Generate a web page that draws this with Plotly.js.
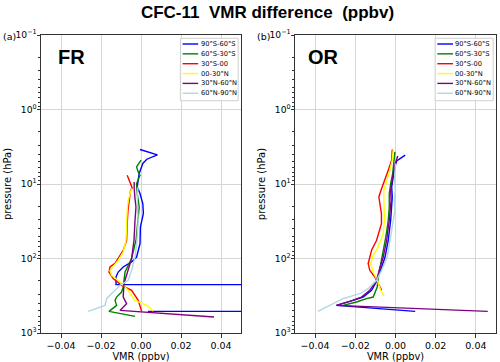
<!DOCTYPE html>
<html><head><meta charset="utf-8">
<script src="https://cdn.plot.ly/plotly-3.0.1.min.js"></script>
<style>html,body{margin:0;padding:0;background:#fff}#chart{width:500px;height:362px}</style>
</head><body><div id="chart"></div>
<script>
// ---------- series / labels ----------
const seriesNames  = ['90°S-60°S','60°S-30°S','30°S-00','00-30°N','30°N-60°N','60°N-90°N'];
const seriesColors = ['#0000ff','#008000','#ff0000','#ffff00','#800080','#add8e6'];
const panelNames   = ['FR','OR'];
const panelLetters = ['(a)','(b)'];
const xTickVals = [-0.04,-0.02,0,0.02,0.04];
const xTickText = ['−0.04','−0.02','0.00','0.02','0.04'];
const yTickVals = [0.1,1,10,100,1000];
const yTickText = ['10<sup>−1</sup>','10<sup>0</sup>','10<sup>1</sup>','10<sup>2</sup>','10<sup>3</sup>'];

// ---------- FR panel (pressure hPa, VMR difference ppbv) ----------
const fr_p_90S60S = [3.44,4.06,4.65,5.30,7.22,10.9,13.4,18.3,24.9,37.8,63.1,95.5,111,130,152,177,224,224,513,513];
const fr_v_90S60S = [-0.0005,0.0082,0.0029,0.0009,-0.0009,-0.0019,-0.0005,0.0009,0.0012,-0.0003,-0.0005,-0.0022,-0.0047,-0.0089,-0.0114,-0.0125,-0.0125,5,5,0.0035];
const fr_p_60S30S = [4.79,5.89,6.88,7.62,9.85,13.4,20.3,30.7,56.9,100,152,242,282,329,365,426,513,598];
const fr_v_60S30S = [0.0000,-0.0022,-0.0014,-0.0005,-0.0022,-0.0019,-0.0009,-0.0014,-0.0025,-0.0047,-0.0080,-0.0089,-0.0097,-0.0122,-0.0130,-0.0122,-0.0160,-0.0030];
const fr_p_30S00  = [7.62,11.3,12.1,16.5,22.5,34.0,56.9,77.6,116,130,152,186,229,267,365,508];
const fr_v_30S00  = [-0.0069,-0.0044,-0.0052,-0.0060,-0.0065,-0.0069,-0.0072,-0.0089,-0.0130,-0.0155,-0.0160,-0.0139,-0.0097,-0.0047,-0.0014,0.0003];
const fr_p_0030N  = [11.5,16.5,22.5,37.8,56.9,81.8,106,144,168,207,267,365,426,508];
const fr_v_0030N  = [-0.0047,-0.0064,-0.0069,-0.0072,-0.0075,-0.0089,-0.0114,-0.0155,-0.0147,-0.0105,-0.0064,-0.0030,0.0029,0.0062];
const fr_p_30N60N = [9.4,11.5,15.7,20.3,30.7,56.9,100,168,217,329,404,497,611];
const fr_v_30N60N = [-0.0034,-0.0034,-0.0030,-0.0025,-0.0030,-0.0035,-0.0047,-0.0072,-0.0085,-0.0089,-0.0072,-0.0105,0.0365];
const fr_p_60N90N = [10.9,13.4,22.5,30.7,56.9,95.5,144,196,229,282,346,426,513];
const fr_v_60N90N = [-0.0014,-0.0019,-0.0017,-0.0014,-0.0020,-0.0030,-0.0047,-0.0064,-0.0105,-0.0139,-0.0172,-0.0180,-0.0264];

// ---------- OR panel ----------
const or_p_90S60S = [4.10,4.89,5.89,8.03,10.9,14.9,20.3,30.7,56.9,95.5,144,196,267,329,365,404,426,513];
const or_v_90S60S = [0.0048,0.0006,-0.0003,-0.0011,-0.0019,-0.0016,-0.0020,-0.0024,-0.0036,-0.0052,-0.0074,-0.0091,-0.0119,-0.0161,-0.0211,-0.0261,-0.0294,0.0098];
const or_p_60S30S = [3.70,5.30,7.22,9.85,13.4,20.3,30.7,51.4,77.6,117,177,242,329,346,384,426];
const or_v_60S30S = [-0.0003,-0.0008,-0.0014,-0.0024,-0.0031,-0.0031,-0.0036,-0.0048,-0.0061,-0.0074,-0.0086,-0.0091,-0.0111,-0.0144,-0.0194,-0.0261];
const or_p_30S00  = [3.44,4.79,6.53,8.89,11.5,14.9,18.3,24.9,34.0,46.3,56.9,77.6,117,144,177,217,267];
const or_v_30S00  = [-0.0016,-0.0019,-0.0036,-0.0052,-0.0069,-0.0083,-0.0078,-0.0070,-0.0070,-0.0085,-0.0094,-0.0119,-0.0136,-0.0128,-0.0103,-0.0086,-0.0069];
const or_p_0030N  = [3.44,4.79,6.53,8.89,12.1,16.5,22.5,30.7,46.3,70.0,90.6,117,152,196,267,319];
const or_v_0030N  = [-0.0011,-0.0016,-0.0028,-0.0044,-0.0058,-0.0058,-0.0055,-0.0055,-0.0061,-0.0086,-0.0111,-0.0124,-0.0111,-0.0091,-0.0074,-0.0056];
const or_p_30N60N = [4.2,5.89,8.03,12.1,16.5,30.7,56.9,95.5,144,196,267,329,376,417,426,513];
const or_v_30N60N = [0.0011,-0.0006,-0.0014,-0.0024,-0.0022,-0.0031,-0.0044,-0.0061,-0.0081,-0.0094,-0.0128,-0.0169,-0.0228,-0.0278,-0.0294,0.0459];
const or_p_60N90N = [5.30,8.89,12.1,16.5,22.5,30.7,56.9,95.5,144,196,254,297,346,404,513];
const or_v_60N90N = [0.0000,-0.0005,0.0000,-0.0006,-0.0003,-0.0011,-0.0024,-0.0041,-0.0069,-0.0094,-0.0136,-0.0178,-0.0261,-0.0311,-0.0386];

const panels = [
  {xa:'x',  ya:'y',  p:[fr_p_90S60S,fr_p_60S30S,fr_p_30S00,fr_p_0030N,fr_p_30N60N,fr_p_60N90N],
                     v:[fr_v_90S60S,fr_v_60S30S,fr_v_30S00,fr_v_0030N,fr_v_30N60N,fr_v_60N90N]},
  {xa:'x2', ya:'y2', p:[or_p_90S60S,or_p_60S30S,or_p_30S00,or_p_0030N,or_p_30N60N,or_p_60N90N],
                     v:[or_v_90S60S,or_v_60S30S,or_v_30S00,or_v_0030N,or_v_30N60N,or_v_60N90N]}
];

const traces = [];
panels.forEach(pn => {
  seriesNames.forEach((nm, i) => {
    traces.push({type:'scatter', mode:'lines', x:pn.v[i], y:pn.p[i], xaxis:pn.xa, yaxis:pn.ya,
      name:nm, showlegend:false, line:{color:seriesColors[i], width:1.4}, hoverinfo:'skip'});
  });
});

const minorVals = [];
[-1,0,1,2].forEach(d => { for (let k=2;k<=9;k++) minorVals.push(k*Math.pow(10,d)); });

const font = 'DejaVu Sans, sans-serif';
const yDom = [0.0801, 0.9033];
function xAxis(dom, anchor){
  return {domain:dom, anchor:anchor, range:[-0.05,0.05], tickmode:'array', tickvals:xTickVals, ticktext:xTickText,
    showgrid:true, gridcolor:'#d6d6d6', gridwidth:1, zeroline:false, showline:true, linecolor:'#333', linewidth:1,
    mirror:true, ticks:'outside', ticklen:3.5, tickcolor:'#333', tickfont:{family:font,size:9.5,color:'#000'},
    title:{text:'VMR (ppbv)', font:{family:font,size:9.8,color:'#000'}, standoff:2}};
}
function yAxis(anchor){
  return {domain:yDom, anchor:anchor, type:'log', range:[3,-1], tickmode:'array', tickvals:yTickVals, ticktext:yTickText,
    showgrid:true, gridcolor:'#d6d6d6', gridwidth:1, zeroline:false, showline:true, linecolor:'#333', linewidth:1,
    mirror:true, ticks:'outside', ticklen:3.5, tickcolor:'#333', tickfont:{family:font,size:9.2,color:'#000'},
    ticklabelstandoff:-2,
    minor:{tickmode:'array', tickvals:minorVals, ticks:'outside', ticklen:2, tickcolor:'#333', showgrid:false},
    title:{text:'pressure (hPa)', font:{family:font,size:10,color:'#000'}, standoff:1}};
}

const shapes = [], annotations = [];
const legBox = {x0:0.697, x1:0.986, y0:0.7795, y1:0.989};
const legLine = {x0:0.708, x1:0.786, tx:0.793, top:0.9698, step:0.03305};
const nameX = [0.1525, 0.144];
const letterX = [0.004, 0.512];
panels.forEach((pn, k) => {
  const xr = pn.xa + ' domain', yr = pn.ya + ' domain';
  shapes.push({type:'rect', xref:xr, yref:yr, x0:legBox.x0, x1:legBox.x1, y0:legBox.y0, y1:legBox.y1,
    line:{color:'#cfcfcf', width:1}, fillcolor:'rgba(255,255,255,0.85)', layer:'above'});
  seriesNames.forEach((nm, i) => {
    const yy = legLine.top - i*legLine.step;
    shapes.push({type:'line', xref:xr, yref:yr, x0:legLine.x0, x1:legLine.x1, y0:yy, y1:yy,
      line:{color:seriesColors[i], width:1.4}, layer:'above'});
    annotations.push({xref:xr, yref:yr, x:legLine.tx, y:yy, xanchor:'left', yanchor:'middle', showarrow:false,
      text:nm, font:{family:font, size:6.7, color:'#000'}, borderpad:0});
  });
  annotations.push({xref:xr, yref:yr, x:nameX[k], y:0.926, xanchor:'center', yanchor:'middle', showarrow:false,
    text:'<b>'+panelNames[k]+'</b>', font:{family:'Liberation Sans, Arial, sans-serif', size:20, color:'#000'}});
  annotations.push({xref:'paper', yref:'paper', x:letterX[k], y:0.898, xanchor:'left', yanchor:'middle', showarrow:false,
    text:panelLetters[k], font:{family:font, size:9.5, color:'#000'}, borderpad:0});
});

const layout = {
  width:500, height:362, margin:{l:0,r:0,t:0,b:0}, paper_bgcolor:'#fff', plot_bgcolor:'#fff', showlegend:false,
  title:{text:'<b>CFC-11 \u00a0VMR difference \u00a0(ppbv)</b>', x:0.535, xanchor:'center', xref:'paper',
         y:0.968, yanchor:'middle', font:{family:'Liberation Sans, Arial, sans-serif', size:17, color:'#000'}},
  xaxis:xAxis([0.082,0.482],'y'), yaxis:yAxis('x'),
  xaxis2:xAxis([0.59,0.992],'y2'), yaxis2:yAxis('x2'),
  shapes:shapes, annotations:annotations
};
Plotly.newPlot('chart', traces, layout, {staticPlot:true, displayModeBar:false});
</script></body></html>
